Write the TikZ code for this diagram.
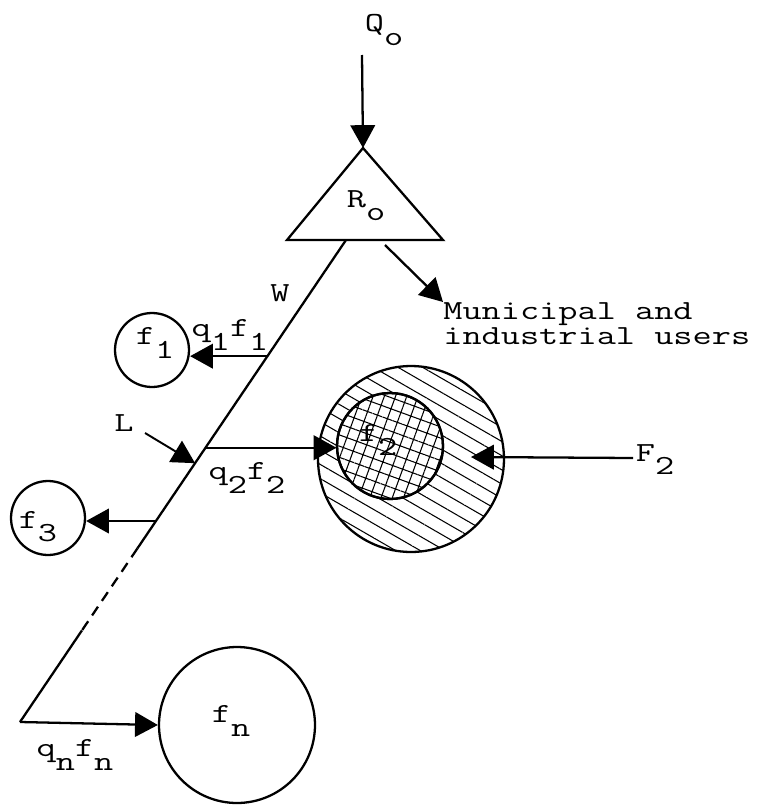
\documentclass[tikz,border=0pt]{standalone}
\usepackage{graphicx}
\usepackage{tikz}
\usetikzlibrary{arrows.meta, positioning, calc, patterns.meta}
\newcommand{\wide}[1]{\scalebox{1.35}[1]{#1}}
\newcommand{\lowered}[1]{\raisebox{-1.1ex}{#1}}
\tikzset{
  lbl/.style={font=\ttfamily\fontsize{15.7}{14.2}\selectfont, inner sep=0pt},
  user/.style={
    circle, draw, line width=1.3pt, minimum size=#1, inner sep=0pt
  },
  flow/.style={-{Triangle[length=13pt,width=14pt]}, line width=1.3pt},
  river/.style={line width=1.3pt},
  irrigated/.style={pattern={Lines[angle=-30,distance=7pt,line width=0.6pt]}},
  crops/.style={pattern={Hatch[angle=-20,distance=6pt,line width=0.6pt]}}
}

\begin{document}
\begin{tikzpicture}[x=0.02cm, y=-0.02cm]
  \useasboundingbox (0,0) rectangle (757,805);

  % reservoir
  \coordinate (apex) at (363,148);
  \coordinate (bl) at (287,240);
  \coordinate (br) at (443,240);
  \draw[river, line join=miter] (apex) -- (bl) -- (br) -- cycle;
  \node[lbl] (ro) at (366,206) {\wide{R\lowered{o}}};
  \node[lbl] (qo) at (384,30) {\wide{Q\lowered{o}}};
  \coordinate (qtop) at (362,55);
  \draw[flow] (qtop) -- (apex);

  % river
  \coordinate (src) at (346,240);
  \coordinate (mouth) at (20,722);
  \coordinate (b1) at ($(src)!0.241!(mouth)$);
  \coordinate (b2) at ($(src)!0.431!(mouth)$);
  \coordinate (bl3) at ($(src)!0.463!(mouth)$);
  \coordinate (b3) at ($(src)!0.583!(mouth)$);
  \coordinate (d1) at ($(src)!0.64!(mouth)$);
  \coordinate (d2) at ($(src)!0.81!(mouth)$);
  \draw[river] (src) -- (d1);
  \draw[river, dash pattern=on 6pt off 4pt] (d1) -- (d2);
  \draw[river] (d2) -- (mouth);
  \node[lbl] (w) at (280,293) {\wide{W}};
  \node[lbl] (l) at (124,423) {\wide{L}};
  \coordinate (ltail) at (145,433);
  \draw[-{Triangle[length=13pt,width=14pt]}, line width=1.1pt] (ltail) -- (bl3);

  % municipal and industrial users
  \coordinate (mi) at (385,245);
  \node[lbl, align=left, anchor=north west] (town) at (443,302)
    {\wide{Municipal and}\\\wide{industrial users}};
  \draw[flow] (mi) -- (town.north west);

  % users
  \node[user=1.48cm] (f1) at (152,350) {};
  \node[lbl] (f1lbl) at (155,343) {\wide{f\lowered{1}}};
  \draw[flow] (b1) -- (b1 -| f1.east);
  \node[lbl] (q1f1) at (230,335) {\wide{q\lowered{1}f\lowered{1}}};

  \node[user=3.72cm, irrigated] (outer) at (411,459) {};
  \node[user=2.12cm, fill=white] (inbg) at (390,446) {};
  \node[user=2.12cm, crops] (inner) at (390,446) {};
  \node[lbl] (f2lbl) at (378,440) {\wide{f\lowered{2}}};
  \draw[flow] (b2) -- (b2 -| inner.west);
  \node[lbl] (q2f2) at (247,478) {\wide{q\lowered{2}f\lowered{2}}};
  \node[lbl] (bigf2) at (655,460) {\wide{F\lowered{2}}};
  \coordinate (f2tail) at (633,458);
  \coordinate (f2in) at (471,457);
  \draw[flow] (f2tail) -- (f2in);

  \node[user=1.48cm] (f3) at (48,518) {};
  \node[lbl] (f3lbl) at (38,527) {\wide{f\lowered{3}}};
  \draw[flow] (b3) -- (b3 -| f3.east);

  \node[user=3.12cm] (fn) at (237,725) {};
  \node[lbl] (fnlbl) at (231,721) {\wide{f\lowered{n}}};
  \draw[flow] (mouth) -- (fn.west);
  \node[lbl] (qnfn) at (75,755) {\wide{q\lowered{n}f\lowered{n}}};
\end{tikzpicture}
\end{document}
